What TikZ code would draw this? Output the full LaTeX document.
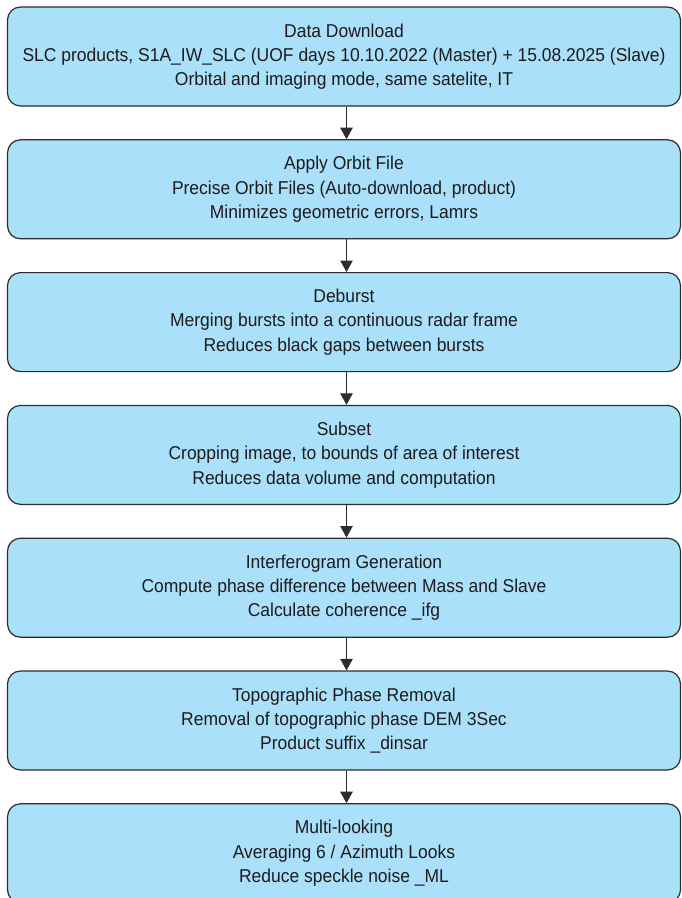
\documentclass[tikz,border=0pt]{standalone}
\usepackage{fontspec}
\setmainfont[FakeStretch=0.94]{Liberation Sans}
\usetikzlibrary{arrows.meta}
\definecolor{boxblue}{RGB}{170,224,250}
\definecolor{edgegray}{RGB}{45,45,45}
\definecolor{txtgray}{RGB}{30,27,28}
\begin{document}
\begin{tikzpicture}[x=1pt,y=1pt,
  stepbox/.style={rectangle, rounded corners=13pt, draw=edgegray, line width=1.2pt,
    fill=boxblue, minimum width=673pt, minimum height=99pt, inner sep=0pt,
    align=center, text=txtgray, font=\fontsize{18.6pt}{24.3pt}\selectfont},
  flow/.style={draw=edgegray, line width=1pt, -{Triangle[length=11.5pt,width=12.5pt]}}]
\useasboundingbox (0,0) rectangle (681,-898);
\clip (0,0) rectangle (681,-898);
\node[stepbox] (b1) at (344,-56.5) {Data Download\\SLC products, S1A\_IW\_SLC (UOF days 10.10.2022 (Master) + 15.08.2025 (Slave)\\Orbital and imaging mode, same satelite, IT};
\node[stepbox] (b2) at (344,-189.3) {Apply Orbit File\\Precise Orbit Files (Auto-download, product)\\Minimizes geometric errors, Lamrs};
\node[stepbox] (b3) at (344,-322.1) {Deburst\\Merging bursts into a continuous radar frame\\Reduces black gaps between bursts};
\node[stepbox] (b4) at (344,-454.9) {Subset\\Cropping image, to bounds of area of interest\\Reduces data volume and computation};
\node[stepbox] (b5) at (344,-587.7) {Interferogram Generation\\Compute phase difference between Mass and Slave\\Calculate coherence \_ifg};
\node[stepbox] (b6) at (344,-720.5) {Topographic Phase Removal\\Removal of topographic phase DEM 3Sec\\Product suffix \_dinsar};
\node[stepbox] (b7) at (344,-853.3) {Multi-looking\\Averaging 6 / Azimuth Looks\\Reduce speckle noise \_ML};
\foreach \a/\b in {b1/b2,b2/b3,b3/b4,b4/b5,b5/b6,b6/b7}
  \draw[flow] ([xshift=2.5pt]\a.south) -- ([xshift=2.5pt]\b.north);
\end{tikzpicture}
\end{document}
